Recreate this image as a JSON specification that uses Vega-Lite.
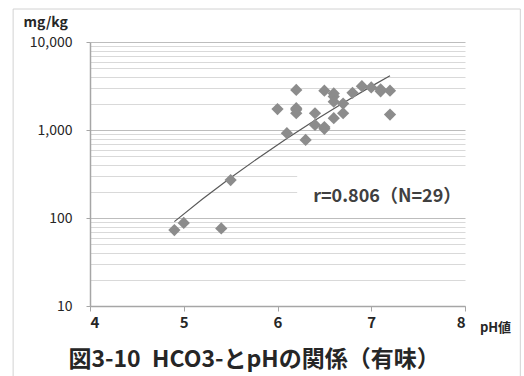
{
  "$schema": "https://vega.github.io/schema/vega-lite/v6.json",
  "width": 375,
  "height": 264,
  "autosize": {"type": "none"},
  "padding": {"left": 90, "top": 42, "right": 59, "bottom": 70},
  "background": "white",
  "config": {
    "font": "Noto Sans CJK JP",
    "view": {"stroke": null}
  },
  "datasets": {
    "samples": [
      {"pH": 4.9, "hco3": 73},
      {"pH": 5.0, "hco3": 88},
      {"pH": 5.4, "hco3": 76},
      {"pH": 5.5, "hco3": 270},
      {"pH": 6.0, "hco3": 1730},
      {"pH": 6.1, "hco3": 920},
      {"pH": 6.2, "hco3": 2850},
      {"pH": 6.2, "hco3": 1770},
      {"pH": 6.2, "hco3": 1700},
      {"pH": 6.2, "hco3": 1550},
      {"pH": 6.3, "hco3": 770},
      {"pH": 6.4, "hco3": 1550},
      {"pH": 6.4, "hco3": 1140},
      {"pH": 6.5, "hco3": 1030},
      {"pH": 6.5, "hco3": 1080},
      {"pH": 6.5, "hco3": 2800},
      {"pH": 6.6, "hco3": 2600},
      {"pH": 6.6, "hco3": 2400},
      {"pH": 6.6, "hco3": 2100},
      {"pH": 6.6, "hco3": 1360},
      {"pH": 6.7, "hco3": 2000},
      {"pH": 6.7, "hco3": 1550},
      {"pH": 6.8, "hco3": 2650},
      {"pH": 6.9, "hco3": 3150},
      {"pH": 7.0, "hco3": 3050},
      {"pH": 7.1, "hco3": 2750},
      {"pH": 7.1, "hco3": 2900},
      {"pH": 7.2, "hco3": 2800},
      {"pH": 7.2, "hco3": 1500}
    ],
    "trend": [
      {"pH": 4.9, "hco3": 91},
      {"pH": 5.2, "hco3": 164},
      {"pH": 5.5, "hco3": 286},
      {"pH": 5.8, "hco3": 485},
      {"pH": 6.1, "hco3": 799},
      {"pH": 6.4, "hco3": 1287},
      {"pH": 6.7, "hco3": 2027},
      {"pH": 7.0, "hco3": 3131},
      {"pH": 7.2, "hco3": 4140}
    ],
    "one": [{}]
  },
  "layer": [
    {
      "data": {"name": "one"},
      "mark": {"type": "rect", "fill": "transparent", "stroke": "#d2d2d2", "strokeWidth": 1, "clip": false},
      "encoding": {
        "x": {"datum": 3.18},
        "x2": {"datum": 8.59},
        "y": {"datum": 23700},
        "y2": {"datum": 1.4}
      }
    },
    {
      "data": {"name": "one"},
      "mark": {"type": "rect", "fill": "white", "stroke": null},
      "encoding": {
        "x": {"datum": 6.21},
        "x2": {"datum": 8.02},
        "y": {"datum": 370},
        "y2": {"datum": 141}
      }
    },
    {
      "data": {"name": "trend"},
      "mark": {"type": "line", "color": "#595959", "strokeWidth": 1.2},
      "encoding": {
        "x": {"field": "pH", "type": "quantitative"},
        "y": {"field": "hco3", "type": "quantitative"}
      }
    },
    {
      "data": {"name": "samples"},
      "mark": {"type": "point", "shape": "diamond", "filled": true, "size": 150, "color": "#8c8c8c", "opacity": 1},
      "encoding": {
        "x": {
          "field": "pH",
          "type": "quantitative",
          "scale": {"type": "linear", "domain": [4, 8], "nice": false, "zero": false},
          "axis": {
            "title": "pH値",
            "titleX": 405,
            "titleY": 21,
            "titleAlign": "center",
            "titleBaseline": "middle",
            "titleFontSize": 13,
            "titleFontWeight": "bold",
            "titleColor": "#262626",
            "values": [4, 5, 6, 7, 8],
            "format": "d",
            "grid": false,
            "domainColor": "#a6a6a6",
            "domainWidth": 1.5,
            "tickColor": "#a6a6a6",
            "tickSize": 5,
            "labelFontSize": 15,
            "labelFontWeight": "bold",
            "labelColor": "#262626",
            "labelPadding": 4
          }
        },
        "y": {
          "field": "hco3",
          "type": "quantitative",
          "scale": {"type": "log", "domain": [10, 10000], "nice": false},
          "axis": {
            "title": "mg/kg",
            "titleAngle": 0,
            "titleX": -67,
            "titleY": -20,
            "titleAlign": "left",
            "titleBaseline": "middle",
            "titleFontSize": 14,
            "titleFontWeight": "bold",
            "titleColor": "#262626",
            "values": [10, 20, 30, 40, 50, 60, 70, 80, 90, 100, 200, 300, 400, 500, 600, 700, 800, 900, 1000, 2000, 3000, 4000, 5000, 6000, 7000, 8000, 9000, 10000],
            "labelExpr": "indexof([10, 100, 1000, 10000], datum.value) >= 0 ? format(datum.value, ',') : ''",
            "labelFontSize": 14,
            "labelColor": "#262626",
            "labelPadding": 14,
            "grid": true,
            "gridColor": {"condition": {"test": "indexof([10, 100, 1000, 10000], datum.value) >= 0", "value": "#bdbdbd"}, "value": "#d9d9d9"},
            "gridWidth": 1.2,
            "domainColor": "#a6a6a6",
            "domainWidth": 1.5,
            "tickColor": "#a6a6a6",
            "tickSize": {"condition": {"test": "indexof([10, 100, 1000, 10000], datum.value) >= 0", "value": 4}, "value": 0}
          }
        }
      }
    },
    {
      "data": {"name": "one"},
      "mark": {"type": "text", "text": "r=0.806（N=29）", "fontSize": 18, "fontWeight": "bold", "color": "#404040", "align": "center", "baseline": "middle"},
      "encoding": {
        "x": {"datum": 7.17},
        "y": {"datum": 173}
      }
    },
    {
      "data": {"name": "one"},
      "mark": {"type": "text", "text": "図3-10\u2002HCO3-とpHの関係（有味）", "fontSize": 23, "fontWeight": "bold", "color": "#262626", "align": "center", "baseline": "middle", "clip": false},
      "encoding": {
        "x": {"datum": 5.75},
        "y": {"datum": 2.45}
      }
    }
  ]
}
